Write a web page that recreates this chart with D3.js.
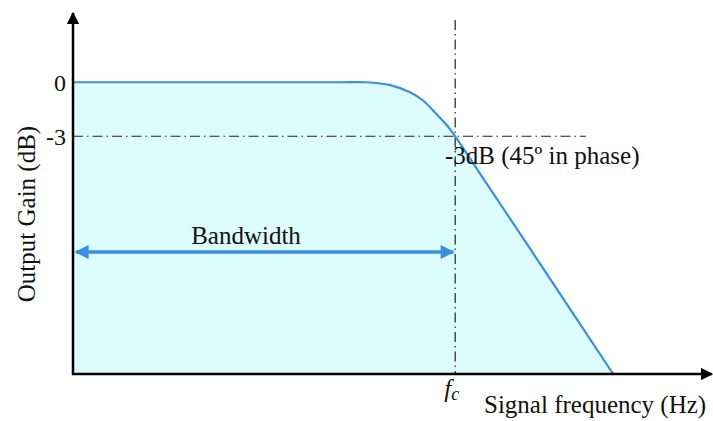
<!DOCTYPE html>
<html><head><meta charset="utf-8">
<script src="https://cdn.jsdelivr.net/npm/d3@7"></script>
<style>
body{margin:0;background:#fff;}
text{font-family:"Liberation Serif","Times New Roman",serif;fill:#111;}
</style></head>
<body><svg id="c" width="713" height="421"></svg>
<script>
// Data (frequency in arbitrary units, gain in dB)
const freq = [0, 4.2, 4.6, 4.98, 5.29, 5.49, 5.71, 5.87, 6.0, 6.5, 7.5, 8.48];
const gain = [0, 0, 0, -0.16, -0.56, -1.0, -1.78, -2.39, -3, -5.66, -10.97, -16.2];
const fc = 6.0;
const yTicks = [0, -3];
const yTickLabels = ["0", "-3"];
const cutoffGain = -3;
const bandwidth = [0, fc];

const svg = d3.select("#c");
const x = d3.scaleLinear().domain([0, 10]).range([73, 710]);
const y = d3.scaleLinear().domain([-16.2, 3.9]).range([374, 12]);
const curve = d3.curveCatmullRom.alpha(0.5);

const pts = freq.map((f, i) => ({f, g: gain[i]}));

// fill area
svg.append("path").datum(pts)
  .attr("d", d3.area().x(d => x(d.f)).y0(y(-16.2)).y1(d => y(d.g)).curve(curve))
  .attr("fill", "#dcfcfd");

// dashed guides
svg.append("line").attr("x1", x(fc)).attr("x2", x(fc)).attr("y1", 20).attr("y2", y(-16.2))
  .attr("stroke", "#222").attr("stroke-width", 1.2).attr("stroke-dasharray", "10,4,1.5,4");
svg.append("line").attr("x1", x(0)).attr("x2", x(8.05)).attr("y1", y(cutoffGain)).attr("y2", y(cutoffGain))
  .attr("stroke", "#222").attr("stroke-width", 1.2).attr("stroke-dasharray", "10,4,1.5,4");

// response line
svg.append("path").datum(pts)
  .attr("d", d3.line().x(d => x(d.f)).y(d => y(d.g)).curve(curve))
  .attr("fill", "none").attr("stroke", "#3a8fe3").attr("stroke-width", 2.2);

// markers
const defs = svg.append("defs");
defs.append("marker").attr("id", "blk").attr("viewBox", "0 0 10 10").attr("refX", 9).attr("refY", 5)
  .attr("markerWidth", 5).attr("markerHeight", 5).attr("orient", "auto-start-reverse").attr("markerUnits","strokeWidth")
  .append("path").attr("d", "M0,0L10,5L0,10z").attr("fill", "#000");
defs.append("marker").attr("id", "blu").attr("viewBox", "0 0 10 10").attr("refX", 9).attr("refY", 5)
  .attr("markerWidth", 4.5).attr("markerHeight", 4).attr("orient", "auto-start-reverse").attr("markerUnits","strokeWidth")
  .append("path").attr("d", "M0,0L10,5L0,10z").attr("fill", "#3a8fe3");

// axes
const yAxis = svg.append("g").attr("transform", `translate(${x(0)},0)`)
  .call(d3.axisLeft(y).tickValues(yTicks).tickFormat((d, i) => yTickLabels[i]).tickSize(0).tickPadding(7));
yAxis.select(".domain").remove();
yAxis.selectAll("text").attr("font-size", 24).attr("font-family", "Liberation Serif").attr("fill", "#111").attr("dy", "0.33em");

const xAxis = svg.append("g").attr("transform", `translate(0,${y(-16.2)})`)
  .call(d3.axisBottom(x).tickValues([fc]).tickFormat(() => "").tickSize(0));
xAxis.select(".domain").remove();

svg.append("line").attr("x1", x(0)).attr("y1", y(-16.2)+1).attr("x2", x(0)).attr("y2", 13)
  .attr("stroke", "#000").attr("stroke-width", 2.5).attr("marker-end", "url(#blk)");
svg.append("line").attr("x1", x(0)-1).attr("y1", y(-16.2)).attr("x2", 712).attr("y2", y(-16.2))
  .attr("stroke", "#000").attr("stroke-width", 2.5).attr("marker-end", "url(#blk)");

// bandwidth arrow
svg.append("line").attr("x1", x(bandwidth[0])+3).attr("x2", x(bandwidth[1])-2).attr("y1", 252).attr("y2", 252)
  .attr("stroke", "#3a8fe3").attr("stroke-width", 3.5)
  .attr("marker-start", "url(#blu)").attr("marker-end", "url(#blu)");
svg.append("text").attr("x", 246).attr("y", 244).attr("text-anchor", "middle").attr("font-size", 25).text("Bandwidth");

// labels
svg.append("text").attr("x", 445).attr("y", 164).attr("font-size", 25).text("-3dB (45º in phase)");
const fcT = svg.append("text").attr("x", x(fc)-11).attr("y", 397).attr("font-size", 25);
fcT.append("tspan").attr("font-style", "italic").text("f");
fcT.append("tspan").attr("font-style", "italic").attr("font-size", 18).attr("dy", 3).text("c");
svg.append("text").attr("x", 484).attr("y", 413).attr("font-size", 25).text("Signal frequency (Hz)");
svg.append("text").attr("transform", "translate(35,214) rotate(-90)").attr("text-anchor", "middle")
  .attr("font-size", 25).text("Output Gain (dB)");
</script></body></html>
